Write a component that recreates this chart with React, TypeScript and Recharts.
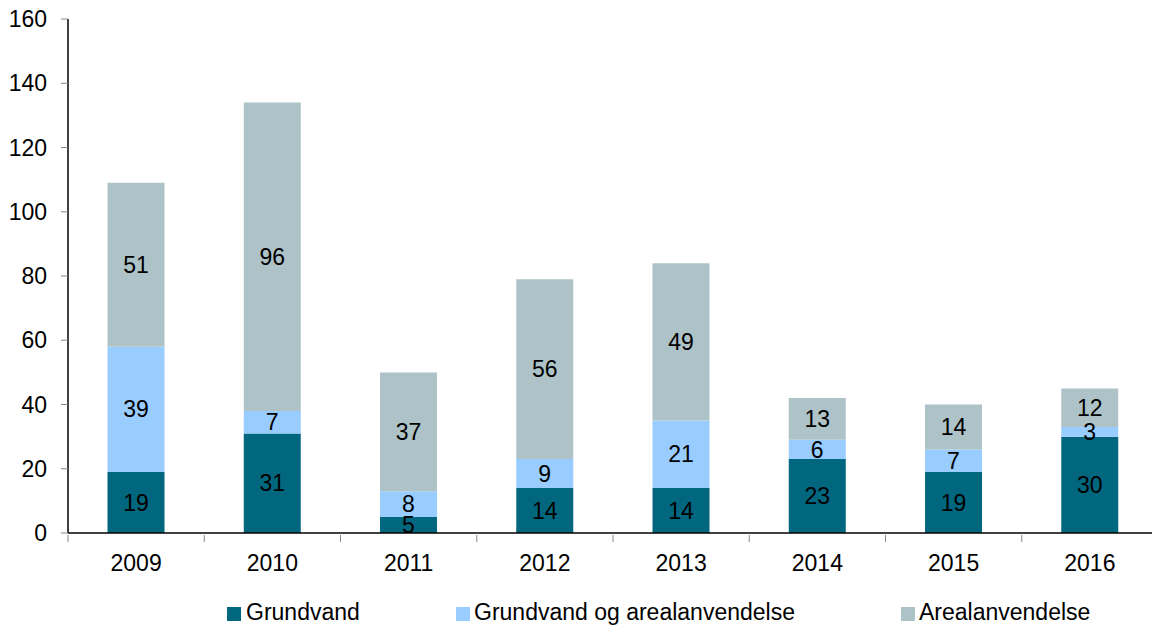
import React from 'react';
import { BarChart, Bar, XAxis, YAxis, Legend, LabelList } from 'recharts';

const years = ['2009', '2010', '2011', '2012', '2013', '2014', '2015', '2016'];
const grundvand = [19, 31, 5, 14, 14, 23, 19, 30];
const grundvandOgAreal = [39, 7, 8, 9, 21, 6, 7, 3];
const arealanvendelse = [51, 96, 37, 56, 49, 13, 14, 12];
const yTicks = [0, 20, 40, 60, 80, 100, 120, 140, 160];

const SERIES = [
  { key: 'grundvand', name: 'Grundvand', color: '#00677F', legendX: 227, textX: 246 },
  { key: 'begge', name: 'Grundvand og arealanvendelse', color: '#99CCFF', legendX: 456, textX: 474 },
  { key: 'areal', name: 'Arealanvendelse', color: '#AEC3C7', legendX: 901, textX: 919 },
];

const data = years.map((year, i) => ({
  year,
  grundvand: grundvand[i],
  begge: grundvandOgAreal[i],
  areal: arealanvendelse[i],
}));

const FONT = 'Liberation Sans, Arial, Helvetica, sans-serif';

const YearTick = (props: any) => {
  const { x, y, payload } = props;
  const half = payload.offset ?? 68;
  return (
    <g>
      <line x1={x - half} x2={x - half} y1={y} y2={y + 7} stroke="#888" strokeWidth={1} />
      <text x={x} y={y + 36} textAnchor="middle" fontSize={23} fontFamily={FONT} fill="#000">
        {payload.value}
      </text>
    </g>
  );
};

const LegendContent = () => (
  <div style={{ position: 'relative', width: 1152, height: 30, fontFamily: FONT, fontSize: 23 }}>
    {SERIES.map((s) => (
      <React.Fragment key={s.key}>
        <div
          style={{ position: 'absolute', left: s.legendX, top: 13, width: 14, height: 14, background: s.color }}
        />
        <div style={{ position: 'absolute', left: s.textX, top: 4, lineHeight: '28px', color: '#000', whiteSpace: 'nowrap' }}>
          {s.name}
        </div>
      </React.Fragment>
    ))}
  </div>
);

export default function App() {
  return (
    <div style={{ position: 'absolute', left: 0, top: 0, width: 1152, height: 628, overflow: 'hidden', background: '#fff' }}>
      <BarChart
        width={1158}
        height={628}
        data={data}
        margin={{ top: 19, right: 0, bottom: 0, left: 0 }}
        barCategoryGap="29%"
      >
        <YAxis
          width={68}
          domain={[0, 160]}
          ticks={yTicks}
          interval={0}
          tickSize={7}
          tickMargin={14}
          axisLine={{ stroke: '#000', strokeWidth: 1.5 }}
          tickLine={{ stroke: '#888' }}
          tick={{ fontSize: 23, fontFamily: FONT, fill: '#000' }}
        />
        <XAxis
          dataKey="year"
          interval={0}
          tickLine={false}
          tickSize={0}
          axisLine={{ stroke: '#000', strokeWidth: 1.5 }}
          tick={<YearTick />}
          height={65}
        />
        {SERIES.map((s) => (
          <Bar key={s.key} dataKey={s.key} name={s.name} stackId="a" fill={s.color} isAnimationActive={false}>
            <LabelList dataKey={s.key} position="center" fill="#000" fontSize={23} fontFamily={FONT} />
          </Bar>
        ))}
        <Legend content={<LegendContent />} wrapperStyle={{ left: 0, top: 594, width: 1152, height: 30 }} />
      </BarChart>
    </div>
  );
}
